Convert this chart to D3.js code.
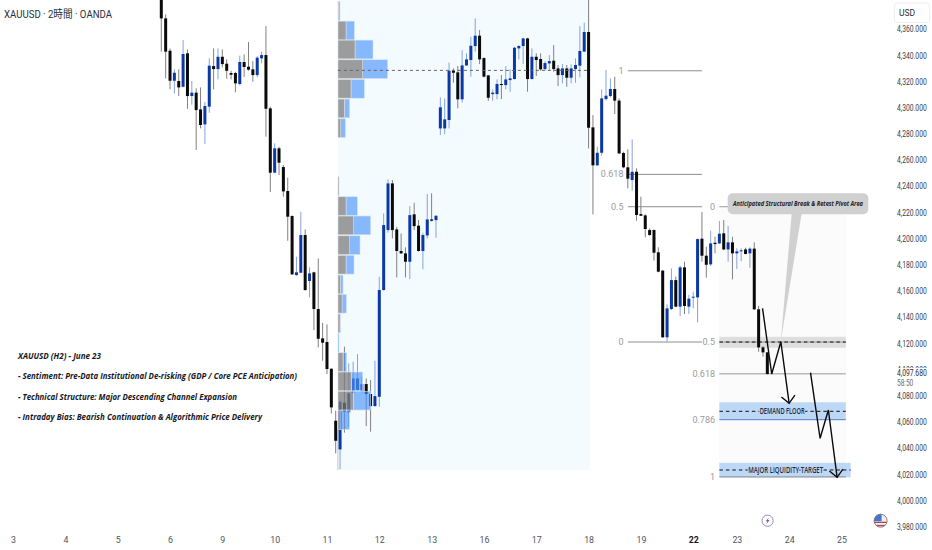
<!DOCTYPE html>
<html lang="ja">
<head>
    <meta charset="UTF-8">
    <title>XAUUSD 2H</title>
    <script src="https://d3js.org/d3.v7.min.js"></script>
    <style>
        html, body { margin: 0; padding: 0; background: #fff; }
        svg { display: block; }
        .axis text { font-family: Roboto, "Noto Sans", sans-serif; fill: #3a3e48; }
        .axis path, .axis line { display: none; }
        .note { font-family: "Open Sans", sans-serif; font-style: italic; font-weight: 700; font-size: 9.5px; fill: #16181f; }
        .fib-label { font-family: Roboto, sans-serif; font-size: 9px; fill: #9b9b9b; }
    </style>
</head>
<body>
<div id="chart"></div>
<script>
// candles, 2h bars
const opens = [
    4390, 4368.1, 4343.4, 4320.5, 4320.3, 4315.9, 4341.4, 4308.8, 4311.4, 4298.6,
    4287.2, 4300.7, 4331.7, 4329.4, 4338.8, 4333.5, 4326.4, 4326.4, 4318, 4334.8,
    4331.2, 4329.2, 4324.8, 4337.6, 4340.1, 4299.4, 4250.3, 4268.9, 4254.6, 4236.3,
    4217.2, 4172.1, 4173.9, 4202.7, 4167.6, 4174.2, 4146.2, 4123.8, 4121, 4100.6,
    4060.9, 4039, 4074.7, 4067.3, 4082.3, 4084.3, 4083.3, 4088.9, 4081.3, 4072.1,
    4079.2, 4160.7, 4206.5, 4242.1, 4207, 4190.5, 4188.7, 4182.3, 4218.5, 4209.8,
    4190.5, 4202.4, 4214.6, 4214.1, 4284.1, 4284.1, 4290.5, 4328.1, 4326.9, 4306.3,
    4332.2, 4336.3, 4347, 4354.9, 4337.8, 4324.6, 4310.3, 4310.3, 4318, 4317.2,
    4321, 4321.8, 4345.2, 4347, 4352.8, 4321.8, 4338.8, 4337.1, 4329.4, 4333.7,
    4335.8, 4329.9, 4324.8, 4329.9, 4322.8, 4329.4, 4332, 4342.7, 4357.7, 4284.9,
    4255.9, 4265.5, 4306.5, 4308.8, 4314.2, 4305.3, 4265.3, 4254.4, 4244.7, 4251,
    4218.7, 4217.7, 4206.5, 4206.5, 4189.5, 4175.5, 4124.6, 4146.2, 4168.3, 4148,
    4178, 4148, 4155.1, 4155.1, 4199.9, 4186.9, 4180.3, 4196.8, 4196.3, 4204,
    4191.7, 4197.1, 4188.7, 4190.5, 4191.7, 4188.7, 4192.3, 4146, 4116.9, 4113.1
];
const closes = [
    4368.1, 4342.7, 4320.5, 4326.6, 4315.4, 4340.9, 4308.8, 4311.4, 4298.1, 4286.7,
    4301.2, 4332, 4329.4, 4338.8, 4333.2, 4328.1, 4325.1, 4318.5, 4334.8, 4331,
    4328.9, 4324.8, 4338.1, 4340.1, 4299.1, 4250.3, 4268.9, 4257.9, 4236, 4216.7,
    4172.6, 4174.2, 4202.7, 4160.7, 4173.4, 4146.2, 4123.5, 4120.5, 4100.4, 4071.1,
    4045.6, 4075.4, 4067.8, 4081.8, 4093.2, 4093.2, 4088.9, 4081.3, 4072.1, 4079.7,
    4160.7, 4210.3, 4242.1, 4206.5, 4190.5, 4188.7, 4182.3, 4217.9, 4209.5, 4190.5,
    4202.7, 4214.6, 4213.6, 4217.4, 4300.2, 4291, 4328.1, 4326.6, 4306.3, 4332.2,
    4336.8, 4347.2, 4354.9, 4336.8, 4323.6, 4307.5, 4311.4, 4318, 4317.2, 4321.5,
    4322.3, 4345.7, 4347, 4352.8, 4321.8, 4338.8, 4336.3, 4329.2, 4334, 4335.5,
    4329.4, 4324.8, 4329.9, 4322.8, 4329.9, 4332.5, 4343.2, 4357.7, 4284.6, 4255.9,
    4265.5, 4307, 4309.1, 4314.2, 4305.3, 4265, 4254.4, 4245.7, 4251, 4218,
    4217.4, 4207.3, 4202.7, 4189.2, 4174.7, 4124.6, 4146.7, 4168.3, 4148, 4178,
    4148.5, 4154.1, 4155.6, 4199.6, 4186.9, 4180, 4196.3, 4195.8, 4203.7, 4191.7,
    4197.1, 4188.7, 4190.2, 4191, 4188.2, 4192.3, 4146, 4116.9, 4113.1, 4096.6
];
const highs = [
    4395, 4371.2, 4345.2, 4329.2, 4329.2, 4351.6, 4344.4, 4320.3, 4314.7, 4315.4,
    4304.2, 4337.6, 4345.2, 4345.2, 4344.4, 4336.8, 4328.1, 4327.4, 4339.6, 4340.6,
    4350, 4335.5, 4339.3, 4342.7, 4362.2, 4300.7, 4272.7, 4270.1, 4256.1, 4246.5,
    4217.7, 4186.1, 4220.5, 4207, 4178, 4174.7, 4184.9, 4135.7, 4134.5, 4100.9,
    4068.5, 4077.2, 4117.4, 4104.7, 4106, 4111.8, 4094.5, 4093.2, 4092, 4106.7,
    4170.9, 4219.2, 4245.2, 4244.7, 4209, 4203.9, 4193.3, 4224.8, 4227.4, 4214.1,
    4204.5, 4234, 4234.5, 4217.9, 4307.8, 4307, 4334.3, 4329.9, 4331.7, 4343.9,
    4341.4, 4354.1, 4368.1, 4359.2, 4338.3, 4324.8, 4313.9, 4321.5, 4324.8, 4331.7,
    4329.4, 4346.5, 4347.7, 4353.3, 4353.3, 4345.2, 4341.4, 4341.4, 4335.5, 4340.1,
    4347.7, 4332.5, 4333.2, 4332.5, 4333, 4337.6, 4362.2, 4364.8, 4382.1, 4294.3,
    4270.1, 4313.9, 4328.7, 4322.3, 4323.6, 4307, 4266.3, 4268.1, 4275.7, 4253.6,
    4232, 4218.5, 4207.8, 4207, 4193.3, 4176, 4149.8, 4177.2, 4170.9, 4179.3,
    4182.3, 4156.9, 4159.4, 4200.1, 4220.2, 4193.8, 4206, 4201.4, 4213.4, 4214.1,
    4209.6, 4201.4, 4192.5, 4192.5, 4193, 4193.3, 4197.1, 4148.7, 4117.9, 4113.4
];
const lows = [
    4342.7, 4322.3, 4313.9, 4310.8, 4308.8, 4315.4, 4299.1, 4302.2, 4267.6, 4284.1,
    4272.2, 4296.1, 4313.9, 4321.5, 4330.7, 4322, 4321.5, 4311.6, 4317, 4323.3,
    4328.1, 4319.7, 4323, 4333.7, 4277.8, 4235.5, 4249.8, 4248.5, 4232, 4198.3,
    4172.6, 4171.6, 4173.4, 4160.2, 4155.1, 4130.1, 4116.9, 4106.7, 4096.5, 4066.5,
    4036, 4023.8, 4051.8, 4056.3, 4081.3, 4083.1, 4082.3, 4056.8, 4052.5, 4071.6,
    4071.6, 4160.2, 4204.5, 4200.1, 4170.3, 4188.2, 4170.3, 4169.1, 4206.5, 4190,
    4176.5, 4200.1, 4213.1, 4200.6, 4279, 4279.8, 4284.1, 4319, 4299.4, 4303.7,
    4331.7, 4323.6, 4342.7, 4333.2, 4323, 4305.2, 4305.2, 4306.3, 4306.5, 4313.9,
    4312.1, 4321.5, 4336.8, 4333.2, 4312.1, 4321.5, 4324.1, 4328.1, 4328.1, 4328.1,
    4327.4, 4316.4, 4318.5, 4315.9, 4318.5, 4319, 4323, 4342.7, 4268.8, 4218.5,
    4255.4, 4263.3, 4305.3, 4307.8, 4295.1, 4264.5, 4253.6, 4238.3, 4236.5, 4213.6,
    4217.2, 4200.9, 4202.2, 4183.1, 4174.2, 4124.3, 4121, 4145.4, 4147.5, 4140.8,
    4142.4, 4142.4, 4146.7, 4136, 4182.3, 4170.1, 4179, 4188.7, 4195.8, 4191.2,
    4182.3, 4168.8, 4176.7, 4182.8, 4188, 4177.7, 4145.4, 4113.6, 4109.8, 4096.2
];

// volume profiles, top edge of each row and volume in it
const upperRowTops = [4381, 4366, 4351.5, 4336.5, 4321.5, 4306.5, 4291.5];
const upperDown = [0.4, 8, 17, 24.7, 13, 6.3, 2.7];
const upperUp = [1.6, 8.3, 18, 25, 13.3, 5.4, 4.6];
const lowerRowTops = [4247.2, 4231.9, 4217.2, 4202.1, 4187.2, 4172.1, 4157.4, 4142.4, 4127.6, 4112.8, 4098.1, 4083.4, 4068.5];
const lowerDown = [1, 8, 15.7, 11.7, 8, 2.3, 4, 2, 0, 5, 13.3, 15.3, 2];
const lowerUp = [0, 11.3, 17, 10.3, 8, 2.7, 4.3, 0.3, 1, 3.7, 11.4, 17.4, 9.3];
const rowPriceHeight = 14.3;

const priceTicks = [4360, 4340, 4320, 4300, 4280, 4260, 4240, 4220, 4200, 4180, 4160, 4140, 4120, 4100, 4080, 4060, 4040, 4020, 4000, 3980];
const dayBars = [-34, -22, -10, 2, 14, 26, 38, 50, 62, 74, 86, 98, 110, 122, 132, 144, 156];
const dayLabels = ["3", "4", "5", "6", "9", "10", "11", "12", "13", "16", "17", "18", "19", "22", "23", "24", "25"];

// left fib
const fibALevels = ["1", "0.618", "0.5", "0"];
const fibAPrices = [4328.1, 4249, 4224.3, 4121];
// right fib
const fibBLevels = ["0", "0.5", "0.618", "0.786", "1"];
const fibBPrices = [4224.3, 4121, 4096.8, 4061.7, 4018];
const fibBColors = ["#9a9a9a", "#9a9a9a", "#b9b9b9", "#5f83c2", "#8a8a8a"];

// projected path, two legs
const pathOneBars = [137.9, 140, 142.1, 144];
const pathOnePrices = [4146.7, 4096.6, 4121.2, 4074.2];
const pathTwoBars = [148.9, 151.1, 153, 155];
const pathTwoPrices = [4097.6, 4047.5, 4069.1, 4017.7];

const lastPrice = 4097.68;
const noteLines = [
    "XAUUSD (H2) - June 23",
    "- Sentiment: Pre-Data Institutional De-risking (GDP / Core PCE Anticipation)",
    "- Technical Structure: Major Descending Channel Expansion",
    "- Intraday Bias: Bearish Continuation & Algorithmic Price Delivery"
];
const noteWidths = [83, 279, 219, 244];

const width = 932, height = 550;
const svg = d3.select("#chart").append("svg").attr("width", width).attr("height", height);
svg.append("rect").attr("width", width).attr("height", height).attr("fill", "#fff");

const x = d3.scaleLinear().domain([0, 100]).range([161.3, 597.3]);
const y = d3.scaleLinear().domain([3980, 4360]).range([526.7, 29]);
const vol = d3.scaleLinear().domain([0, 50]).range([338, 388]);

// squeeze a text to the width it has in the picture
function fit(sel, w) {
    return sel.attr("textLength", w).attr("lengthAdjust", "spacingAndGlyphs");
}

// highlighted date range
svg.append("rect")
    .attr("x", x(40.5)).attr("width", x(98.3) - x(40.5))
    .attr("y", y(4382)).attr("height", y(4023.3) - y(4382))
    .attr("fill", "#f4fbff");
svg.append("line")
    .attr("x1", x(40.5)).attr("x2", x(40.5))
    .attr("y1", y(4054)).attr("y2", y(4023.3))
    .attr("stroke", "#c8c8c8");

// very faint fill of the right fib
svg.append("rect")
    .attr("x", x(128)).attr("width", x(157) - x(128))
    .attr("y", y(4224.3)).attr("height", y(4018) - y(4224.3))
    .attr("fill", "#fbfbfb");

// bands under the candles
const bands = [
    { top: 4125, bottom: 4116.6, end: 157, fill: "#dedede" },
    { top: 4075, bottom: 4061.4, end: 157, fill: "#bdd7f7" },
    { top: 4028.8, bottom: 4017.7, end: 158.1, fill: "#bdd7f7" }
];
svg.selectAll(".band").data(bands).join("rect")
    .attr("class", "band")
    .attr("x", x(128)).attr("width", d => x(d.end) - x(128))
    .attr("y", d => y(d.top)).attr("height", d => y(d.bottom) - y(d.top))
    .attr("fill", d => d.fill);

// fib lines
svg.selectAll(".fib-a").data(fibAPrices).join("line")
    .attr("class", "fib-a")
    .attr("x1", x(107)).attr("x2", x(124))
    .attr("y1", d => y(d)).attr("y2", d => y(d))
    .attr("stroke", "#8d8d8d").attr("stroke-width", 1);
svg.selectAll(".fib-a-label").data(fibALevels).join("text")
    .attr("class", "fib-label")
    .attr("x", x(106)).attr("y", (d, i) => y(fibAPrices[i]) + 3)
    .attr("text-anchor", "end").text(d => d);

svg.selectAll(".fib-b").data(fibBPrices).join("line")
    .attr("class", "fib-b")
    .attr("x1", x(128)).attr("x2", x(157))
    .attr("y1", d => y(d)).attr("y2", d => y(d))
    .attr("stroke", (d, i) => fibBColors[i])
    .attr("stroke-width", (d, i) => i == 2 ? 1.5 : 1);
svg.selectAll(".fib-b-label").data(fibBLevels).join("text")
    .attr("class", "fib-label")
    .attr("x", x(127)).attr("y", (d, i) => y(fibBPrices[i]) + 3)
    .attr("text-anchor", "end").text(d => d);

// candles
const bars = d3.range(opens.length);
const isUp = i => closes[i] > opens[i];
svg.selectAll(".wick").data(bars).join("line")
    .attr("class", "wick")
    .attr("x1", i => x(i)).attr("x2", i => x(i))
    .attr("y1", i => y(highs[i])).attr("y2", i => y(lows[i]))
    .attr("stroke", i => isUp(i) ? "#86a3de" : "#808080")
    .attr("stroke-width", 1);
svg.selectAll(".body").data(bars).join("rect")
    .attr("class", "body")
    .attr("x", i => x(i) - 1.5).attr("width", 3)
    .attr("y", i => y(Math.max(opens[i], closes[i])))
    .attr("height", i => Math.max(1, Math.abs(y(opens[i]) - y(closes[i]))))
    .attr("fill", i => isUp(i) ? "#0b38a6" : "#0a0a0a");

// volume profile rows
function drawProfile(tops, down, up) {
    const rows = svg.append("g");
    tops.forEach((top, i) => {
        const rowY = y(top), rowH = y(top - rowPriceHeight) - rowY;
        rows.append("rect")
            .attr("x", vol(down[i])).attr("width", vol(down[i] + up[i]) - vol(down[i]))
            .attr("y", rowY).attr("height", rowH)
            .attr("fill", "#4a94fa").attr("fill-opacity", 0.65)
            .attr("stroke", "#cfe2fd").attr("stroke-width", 0.6);
        rows.append("rect")
            .attr("x", vol(0)).attr("width", vol(down[i]) - vol(0))
            .attr("y", rowY).attr("height", rowH)
            .attr("fill", "#7c7c7c").attr("fill-opacity", 0.75)
            .attr("stroke", "#dddddd").attr("stroke-width", 0.6);
    });
}
drawProfile(upperRowTops, upperDown, upperUp);
drawProfile(lowerRowTops, lowerDown, lowerUp);

// point of control
svg.append("line")
    .attr("x1", x(40.5)).attr("x2", x(98.3))
    .attr("y1", y(4328.4)).attr("y2", y(4328.4))
    .attr("stroke", "#666").attr("stroke-dasharray", "3,3");

// dashed levels
const dashedPrices = [4121, 4068.1, 4023.3];
const dashedEnds = [157, 157, 158.1];
svg.selectAll(".dash").data(dashedPrices).join("line")
    .attr("class", "dash")
    .attr("x1", x(128)).attr("x2", (d, i) => x(dashedEnds[i]))
    .attr("y1", d => y(d)).attr("y2", d => y(d))
    .attr("stroke", "#111").attr("stroke-width", 1).attr("stroke-dasharray", "3.5,3");

// box captions
const boxTexts = ["DEMAND FLOOR", "MAJOR LIQUIDITY TARGET"];
const boxBars = [142.4, 143.2];
const boxPrices = [4068.1, 4023.3];
const boxWidths = [45, 75];
svg.selectAll(".box-text").data(boxTexts).join("text")
    .attr("class", "box-text")
    .attr("x", (d, i) => x(boxBars[i])).attr("y", (d, i) => y(boxPrices[i]) + 2.8)
    .attr("text-anchor", "middle")
    .attr("font-family", "Open Sans, sans-serif").attr("font-size", 8).attr("font-weight", 600)
    .attr("fill", "#1c2a44")
    .attr("stroke", "#bdd7f7").attr("stroke-width", 3).attr("paint-order", "stroke")
    .attr("textLength", (d, i) => boxWidths[i]).attr("lengthAdjust", "spacingAndGlyphs")
    .text(d => d);

// callout
const callX = 727.7, callY = 193.3, callW = 140.6, callH = 21;
svg.append("path")
    .attr("d", d3.line()([[791.7, callY + callH - 1], [801.7, callY + callH - 1], [x(142.1), y(4122)]]) + "Z")
    .attr("fill", "#d0d0d0");
svg.append("rect")
    .attr("x", callX).attr("y", callY).attr("width", callW).attr("height", callH).attr("rx", 5)
    .attr("fill", "#d0d0d0");
fit(svg.append("text")
    .attr("x", callX + callW / 2).attr("y", callY + 12.5)
    .attr("text-anchor", "middle")
    .attr("font-family", "Open Sans, sans-serif").attr("font-size", 7).attr("font-style", "italic").attr("font-weight", 700)
    .attr("fill", "#20222a"), 130)
    .text("Anticipated Structural Break & Retest Pivot Area");

// projected arrows
function drawArrow(barsList, priceList) {
    const pts = barsList.map((b, i) => [x(b), y(priceList[i])]);
    svg.append("path")
        .attr("d", d3.line()(pts))
        .attr("fill", "none").attr("stroke", "#0a0a0a").attr("stroke-width", 1.4);
    const [ax, ay] = pts[pts.length - 2], [tx, ty] = pts[pts.length - 1];
    const ang = Math.atan2(ty - ay, tx - ax);
    const barb = a => [tx - 10 * Math.cos(ang + a), ty - 10 * Math.sin(ang + a)];
    svg.append("path")
        .attr("d", d3.line()([barb(0.75), [tx, ty], barb(-0.75)]))
        .attr("fill", "none").attr("stroke", "#0a0a0a").attr("stroke-width", 1.4);
}
drawArrow(pathOneBars, pathOnePrices);
drawArrow(pathTwoBars, pathTwoPrices);

// note text on the left
svg.selectAll(".note").data(noteLines).join("text")
    .attr("class", "note")
    .attr("x", 18).attr("y", (d, i) => 359 + i * 20.3)
    .attr("textLength", (d, i) => noteWidths[i]).attr("lengthAdjust", "spacingAndGlyphs")
    .text(d => d);

// axes, price labels are squeezed horizontally like the picture
const fmt = d3.format(",.3f");
const squeeze = "scale(0.77,1)";
svg.append("g").attr("class", "axis")
    .attr("transform", "translate(897,0)")
    .call(d3.axisRight(y).tickValues(priceTicks).tickSize(0).tickPadding(0).tickFormat(fmt))
    .selectAll("text").attr("font-size", 8.8).attr("transform", squeeze);

svg.append("g").attr("class", "axis")
    .attr("transform", "translate(0,534)")
    .call(d3.axisBottom(x).tickValues(dayBars).tickSize(0).tickPadding(3).tickFormat((d, i) => dayLabels[i]))
    .selectAll("text")
    .attr("font-size", 8.8)
    .attr("font-weight", (d, i) => dayLabels[i] == "22" ? 700 : 400)
    .style("fill", (d, i) => dayLabels[i] == "22" ? "#131722" : "#50535e");

// last price tag
svg.append("rect").attr("x", 892).attr("y", y(lastPrice) - 4.5).attr("width", 40).attr("height", 20).attr("fill", "#fff");
const tag = svg.append("g").attr("transform", `translate(897,${y(lastPrice)})`);
tag.append("text")
    .attr("y", 3.5).attr("transform", squeeze)
    .attr("font-family", "Roboto, sans-serif").attr("font-size", 8.8).attr("fill", "#2a2e39")
    .text(fmt(lastPrice));
tag.append("text")
    .attr("y", 13.5).attr("transform", squeeze)
    .attr("font-family", "Roboto, sans-serif").attr("font-size", 8.5).attr("fill", "#6a6d78")
    .text("58:50");

// currency box and title
svg.append("rect").attr("x", 894.5).attr("y", 3).attr("width", 35).attr("height", 19.5).attr("rx", 3)
    .attr("fill", "#fff").attr("stroke", "#eeeeee");
svg.append("text").attr("x", 899).attr("y", 15.5)
    .attr("font-family", "Roboto, sans-serif").attr("font-size", 8.5).attr("fill", "#2a2e39").text("USD");
fit(svg.append("text").attr("x", 4).attr("y", 18)
    .attr("font-family", "Roboto, 'Noto Sans CJK JP', sans-serif").attr("font-size", 11).attr("fill", "#2a2e39"), 108)
    .text("XAUUSD · 2時間 · OANDA");

// event icons
const bolt = svg.append("g").attr("transform", "translate(767.6,520.7)");
bolt.append("circle").attr("r", 5.6).attr("fill", "#fff").attr("stroke", "#7b80c0").attr("stroke-width", 0.9);
bolt.append("path").attr("d", "M1.2,-3.2 L-1.8,0.6 L-0.1,0.6 L-1.1,3.2 L1.9,-0.8 L0.2,-0.8 Z").attr("fill", "#a0455f");

const flag = svg.append("g").attr("transform", "translate(880.6,520.7)");
flag.append("clipPath").attr("id", "flag-clip").append("circle").attr("r", 6.5);
const flagArt = flag.append("g").attr("clip-path", "url(#flag-clip)");
flagArt.append("rect").attr("x", -7).attr("y", -7).attr("width", 14).attr("height", 14).attr("fill", "#f3eeee");
flagArt.append("rect").attr("x", -7).attr("y", -7).attr("width", 8).attr("height", 7.5).attr("fill", "#3c78d8");
flagArt.append("rect").attr("x", -7).attr("y", 1).attr("width", 14).attr("height", 1.3).attr("fill", "#a84a5a");
flagArt.append("rect").attr("x", -7).attr("y", 4.2).attr("width", 14).attr("height", 1.3).attr("fill", "#a84a5a");
flag.append("circle").attr("r", 6.5).attr("fill", "none").attr("stroke", "#8e6a72").attr("stroke-width", 0.9);
</script>
</body>
</html>
